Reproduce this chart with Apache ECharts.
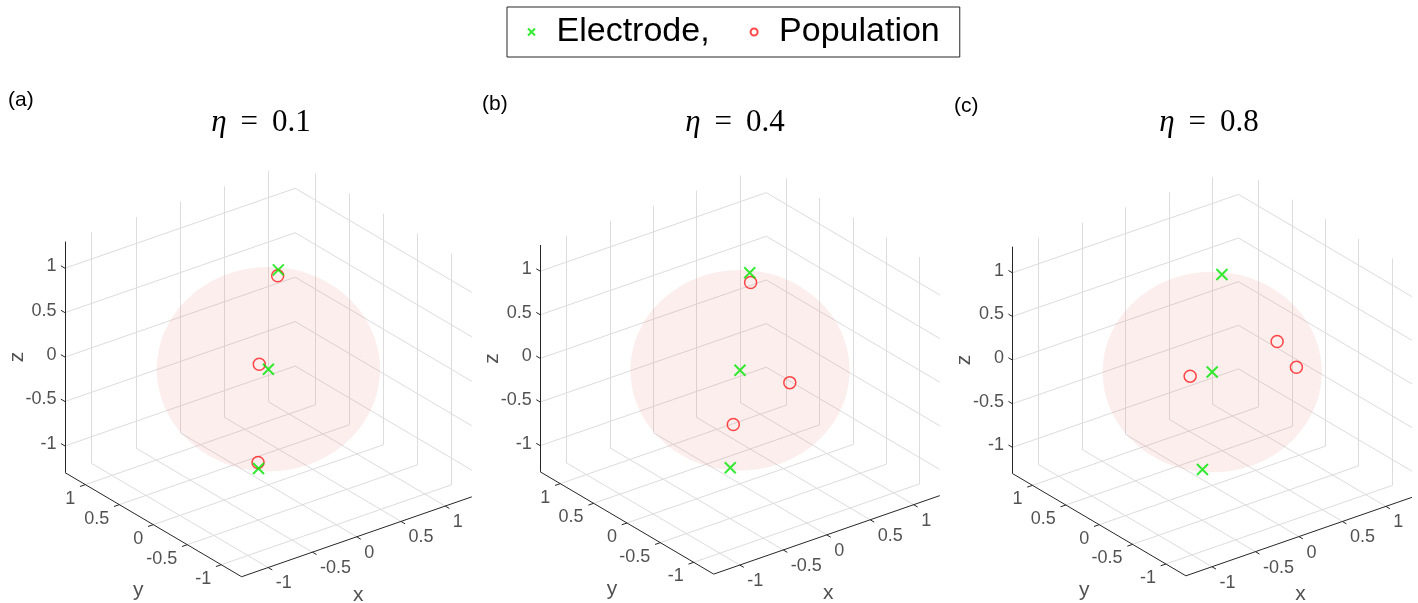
<!DOCTYPE html>
<html>
<head>
<meta charset="utf-8">
<script src="https://cdn.jsdelivr.net/npm/echarts@6/dist/echarts.min.js"></script>
<style>
  html, body { margin: 0; padding: 0; background: #ffffff; }
  #chart { width: 1418px; height: 603px; }
</style>
</head>
<body>
<div id="chart"></div>
<script>
// ---- data ---------------------------------------------------------------
// tick values shared by the x, y and z axes
const tickValues = [-1, -0.5, 0, 0.5, 1];
const tickLabels = ['-1', '-0.5', '0', '0.5', '1'];
const axisLimit = 1.3;            // axes run from -1.3 to 1.3
const sphereRadius = 1;
const etaValues = [0.1, 0.4, 0.8];
const panelTags = ['(a)', '(b)', '(c)'];

// electrode positions [x, y, z], identical in every panel
const electrodes = [[0.25, 0.18, 0.95], [0, 0, 0], [-0.25, -0.18, -0.95]];
// population positions [x, y, z] for each eta
const populationsA = [[0.235, 0.17, 0.893], [-0.08, 0.03, 0.07], [-0.24, -0.16, -0.895]];
const populationsB = [[0.245, 0.16, 0.85], [0.45, -0.16, -0.225], [-0.2, -0.16, -0.48]];
const populationsC = [[0.555, -0.25, 0.27], [0.7, -0.35, -0.03], [-0.2, 0.07, -0.01]];
const populations = [populationsA, populationsB, populationsC];

// ---- layout ---------------------------------------------------------------
// pixel centre of each 3-D box and its scale factor
const panelLayout = [
  { cx: 268.4, cy: 369.2, k: 1.0,   titleX: 256,  tagX: 3,   tagY: 85 },
  { cx: 740.0, cy: 370.3, k: 0.982, titleX: 730,  tagX: 477, tagY: 89 },
  { cx: 1212.2, cy: 372.0, k: 0.982, titleX: 1204, tagX: 949, tagY: 91 }
];
const HALF_W = 180, HALF_H = 220;

// orthographic 3-D view (azimuth -37.5 deg, elevation ~30 deg), stretched to fill
const AZ = 37.5 * Math.PI / 180;
const EL = 29.6 * Math.PI / 180;
const SH = 111.6;   // horizontal units per data unit
const SV = 102.2;   // vertical units per data unit
function project(p) {
  const x = p[0], y = p[1], z = p[2];
  const u = SH * (Math.cos(AZ) * x - Math.sin(AZ) * y);
  const v = SV * (Math.sin(EL) * (Math.sin(AZ) * x + Math.cos(AZ) * y) + Math.cos(EL) * z);
  return [u, v];
}
function seg(a, b) { return { coords: [project(a), project(b)] }; }

const L = axisLimit;
const tickLen = 0.06;

// light grid on the three back planes
function gridSegments() {
  const s = [];
  tickValues.forEach(t => {
    // back wall y = max
    s.push(seg([t, L, -L], [t, L, L]));
    s.push(seg([-L, L, t], [L, L, t]));
    // back wall x = max
    s.push(seg([L, t, -L], [L, t, L]));
    s.push(seg([L, -L, t], [L, L, t]));
    // floor z = min
    s.push(seg([t, -L, -L], [t, L, -L]));
    s.push(seg([-L, t, -L], [L, t, -L]));
  });
  return s;
}
// axis lines with outward ticks
function axisSegments() {
  const s = [
    seg([-L, L, -L], [-L, L, L]),     // z axis
    seg([-L, L, -L], [-L, -L, -L]),   // y axis
    seg([-L, -L, -L], [L, -L, -L])    // x axis
  ];
  tickValues.forEach(t => {
    s.push(seg([t, -L, -L], [t, -L - tickLen, -L]));
    s.push(seg([-L, t, -L], [-L - tickLen, t, -L]));
    s.push(seg([-L, L, t], [-L, L + tickLen, t]));
  });
  return s;
}

const gridColor = '#dcdcdc';
const axisColor = '#262626';
const green = '#00e600';
const red = '#ff1a1a';
const xPath = 'path://M0 0L12 12M12 0L0 12';
const sansFont = '"Liberation Sans", Arial, Helvetica, sans-serif';
const serifFont = '"Liberation Serif", "Times New Roman", serif';

const grids = [], xAxes = [], yAxes = [], series = [], titles = [];

panelLayout.forEach((pl, i) => {
  grids.push({ left: pl.cx - HALF_W, top: pl.cy - HALF_H, width: 2 * HALF_W, height: 2 * HALF_H });
  xAxes.push({ type: 'value', gridIndex: i, min: -HALF_W / pl.k, max: HALF_W / pl.k, show: false });
  yAxes.push({ type: 'value', gridIndex: i, min: -HALF_H / pl.k, max: HALF_H / pl.k, show: false });
  const ax = { xAxisIndex: i, yAxisIndex: i };

  series.push(Object.assign({
    name: 'grid' + i, type: 'lines', coordinateSystem: 'cartesian2d', silent: true, clip: false, z: 1,
    lineStyle: { color: gridColor, width: 1, opacity: 1 },
    data: gridSegments()
  }, ax));

  series.push(Object.assign({
    name: 'axes' + i, type: 'lines', coordinateSystem: 'cartesian2d', silent: true, clip: false, z: 2,
    lineStyle: { color: axisColor, width: 1, opacity: 1 },
    data: axisSegments()
  }, ax));

  // translucent unit sphere
  const c = project([0, 0, 0]);
  series.push(Object.assign({
    name: 'sphere' + i, type: 'custom', coordinateSystem: 'cartesian2d', silent: true, clip: false, z: 3,
    data: [[c[0], c[1], SH * sphereRadius, SV * sphereRadius]],
    renderItem: function (params, api) {
      const o = api.coord([api.value(0), api.value(1)]);
      const ex = api.coord([api.value(0) + api.value(2), api.value(1)]);
      const ey = api.coord([api.value(0), api.value(1) + api.value(3)]);
      return {
        type: 'ellipse',
        shape: { cx: o[0], cy: o[1], rx: Math.abs(ex[0] - o[0]), ry: Math.abs(ey[1] - o[1]) },
        style: { fill: 'rgba(240,140,140,0.15)' }
      };
    }
  }, ax));

  series.push(Object.assign({
    name: 'Population', type: 'scatter', z: 4, clip: false, silent: true,
    symbol: 'circle', symbolSize: 12,
    itemStyle: { color: 'rgba(0,0,0,0)', borderColor: red, borderWidth: 1.5 },
    data: populations[i].map(project)
  }, ax));

  series.push(Object.assign({
    name: 'Electrode', type: 'scatter', z: 5, clip: false, silent: true,
    symbol: xPath, symbolSize: 11,
    itemStyle: { color: 'rgba(0,0,0,0)', borderColor: green, borderWidth: 2 },
    data: electrodes.map(project)
  }, ax));

  // tick labels and axis names
  const tickStyle = { show: true, color: axisColor, fontFamily: sansFont, fontSize: 18, distance: 0 };
  const labelData = [];
  tickValues.forEach((t, j) => {
    labelData.push({ value: project([t, -L, -L]), name: tickLabels[j],
      label: Object.assign({}, tickStyle, { position: 'right', offset: [7, 16] }) });
    labelData.push({ value: project([-L, t, -L]), name: tickLabels[j],
      label: Object.assign({}, tickStyle, { position: 'left', offset: [-9.5, 14] }) });
    labelData.push({ value: project([-L, L, t]), name: tickLabels[j],
      label: Object.assign({}, tickStyle, { position: 'left', offset: [-8, -2] }) });
  });
  const nameStyle = { show: true, color: axisColor, fontFamily: sansFont, fontSize: 21, position: 'inside' };
  labelData.push({ value: project([0, -L, -L]), name: 'x', label: Object.assign({}, nameStyle, { offset: [1.5, 58] }) });
  labelData.push({ value: project([-L, 0, -L]), name: 'y', label: Object.assign({}, nameStyle, { offset: [-15, 66] }) });
  // z name is rotated, so its offset is given in the rotated frame
  labelData.push({ value: project([-L, L, 0]), name: 'z', label: Object.assign({}, nameStyle, { offset: [0, -48], rotate: 90 }) });
  series.push(Object.assign({
    name: 'labels' + i, type: 'scatter', z: 6, clip: false, silent: true,
    symbol: 'circle', symbolSize: 1, itemStyle: { color: 'rgba(0,0,0,0)' },
    label: { formatter: '{b}' },
    data: labelData
  }, ax));

  titles.push({
    text: '{e|η} \u2009=\u2009 ' + etaValues[i].toFixed(1),
    left: pl.titleX, top: 102, textAlign: 'center',
    textStyle: {
      fontFamily: serifFont, fontSize: 31, fontWeight: 'normal', color: '#000',
      rich: { e: { fontFamily: serifFont, fontSize: 31, fontStyle: 'italic', color: '#000' } }
    }
  });
  titles.push({
    text: panelTags[i], left: pl.tagX, top: pl.tagY,
    textStyle: { fontFamily: sansFont, fontSize: 21, fontWeight: 'normal', color: '#000' }
  });
});

const chart = echarts.init(document.getElementById('chart'), null, { renderer: 'canvas' });
chart.setOption({
  backgroundColor: '#ffffff',
  animation: false,
  title: titles,
  legend: {
    left: 507, top: 7,
    orient: 'horizontal',
    selectedMode: false,
    padding: [5, 20, 5, 20],
    itemWidth: 40, itemHeight: 7, itemGap: 40,
    borderColor: axisColor, borderWidth: 1,
    textStyle: { fontFamily: sansFont, fontSize: 34, color: '#000', lineHeight: 40 },
    formatter: name => name === 'Electrode' ? 'Electrode,' : name,
    data: [
      { name: 'Electrode', icon: 'path://M0 0L12 12M12 0L0 12',
        itemStyle: { color: 'rgba(0,0,0,0)', borderColor: green, borderWidth: 2 } },
      { name: 'Population', icon: 'circle',
        itemStyle: { color: 'rgba(0,0,0,0)', borderColor: red, borderWidth: 2 } }
    ]
  },
  grid: grids,
  xAxis: xAxes,
  yAxis: yAxes,
  series: series
});
</script>
</body>
</html>
